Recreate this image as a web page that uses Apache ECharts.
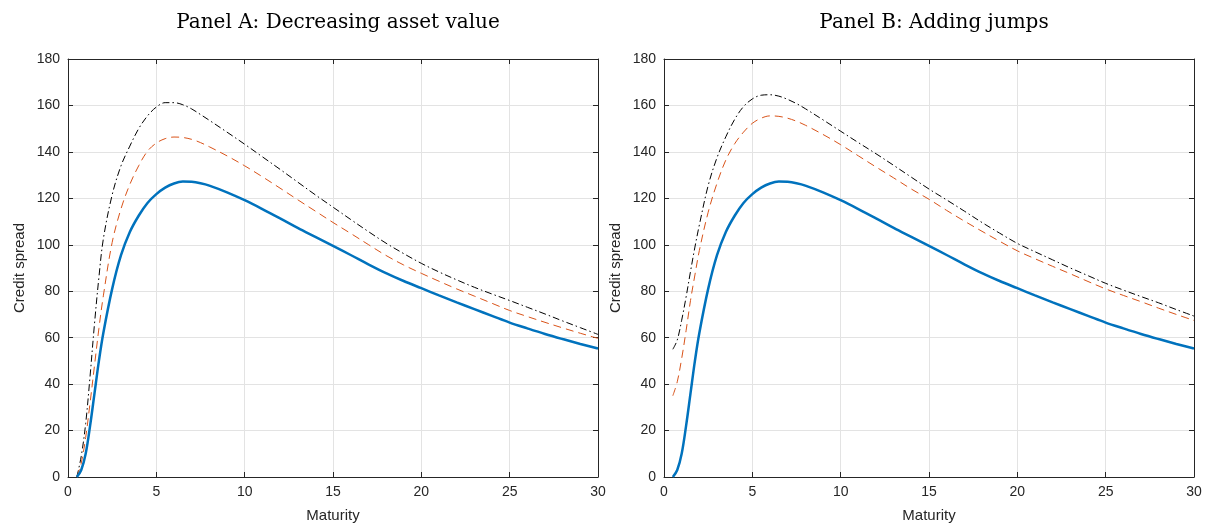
<!DOCTYPE html>
<html>
<head>
<meta charset="utf-8">
<script src="https://cdn.jsdelivr.net/npm/echarts@6/dist/echarts.min.js"></script>
<style>
    html, body { margin: 0; padding: 0; background: #fff; }
    #chart { width: 1212px; height: 531px; }
</style>
</head>
<body>
<div id="chart"></div>
<script>
// maturity grid shared by every curve
const maturity = [0.5, 0.75, 1, 1.25, 1.5, 1.75, 2, 2.5, 3, 3.5, 4, 4.5, 5, 5.5, 6, 6.5, 7, 7.5, 8,
    9, 10, 11, 12, 13, 14, 15, 16, 17, 18, 19, 20, 21, 22, 23, 24, 25, 26, 27, 28, 29, 30];

// base case (solid blue), identical in both panels
const baseSpread = [0, 3, 10, 22, 36, 50, 62, 81, 95.5, 105.5, 112.5, 118, 121.8, 124.6, 126.4, 127.2, 127.1, 126.5, 125.5,
    122.6, 119.2, 115.4, 111.4, 107.3, 103.4, 99.5, 95.6, 91.6, 87.8, 84.4, 81.3, 78.2, 75.2, 72.3, 69.4, 66.5, 64, 61.6, 59.4, 57.3, 55.3];

// Panel A: decreasing asset value
const aDashed = [0, 6, 17, 32, 48, 64, 78, 101, 115.5, 126, 134, 140.3, 143.8, 145.7, 146.4, 146.2, 145.4, 144, 142.2,
    138.3, 134, 129.3, 124.4, 119.4, 114.5, 109.6, 104.9, 100.1, 95.4, 91.3, 87.7, 84.3, 81, 77.9, 74.8, 71.7, 69.1, 66.6, 64.2, 61.9, 59.7];
const aDashDot = [0, 9, 23, 43.5, 66, 86, 102.5, 121.5, 134, 142.5, 150, 155.5, 159.3, 161.2, 161.2, 160.3, 158.5, 156.1, 153.6,
    148.5, 143.3, 137.9, 132.5, 127, 121.5, 116.2, 110.9, 105.7, 100.7, 96.2, 92, 88.3, 84.9, 81.7, 78.8, 76, 73.1, 70.2, 67.2, 64.3, 61.4];

// Panel B: adding jumps
const bDashed = [35, 41, 51, 63, 76, 87, 97.5, 114, 126.5, 136.5, 143.5, 148.5, 152.3, 154.5, 155.5, 155.3, 154.5, 153.2, 151.5,
    147.5, 143.1, 138.3, 133.5, 128.8, 124, 119.6, 114.8, 110.2, 105.8, 101.5, 97.4, 94, 90.7, 87.5, 84.2, 81, 78.2, 75.5, 72.7, 70, 67.4];
const bDashDot = [55, 59, 67.5, 77.5, 88.5, 99, 108.5, 125.5, 137.5, 146.5, 154, 159.5, 162.8, 164.4, 164.6, 164, 162.6, 160.8, 158.6,
    153.8, 148.9, 144, 139.2, 134.2, 129.1, 124, 119.3, 114.5, 109.6, 105, 100.6, 97, 93.5, 90, 86.7, 83.4, 80.5, 77.7, 75, 72.1, 69.3];

const panelTitles = ["Panel A: Decreasing asset value", "Panel B: Adding jumps"];
const xTicks = { min: 0, max: 30, interval: 5 };
const yTicks = { min: 0, max: 180, interval: 20 };

const AXIS = "#262626";
const GRID = "#e3e3e3";
const SANS = "Liberation Sans, Arial, sans-serif";

const pairs = (ys) => maturity.map((x, i) => [x, ys[i]]);

const grids = [
    { left: 68, top: 59, width: 530, height: 418 },
    { left: 664, top: 59, width: 530, height: 418 },
];

const xAxes = [];
const yAxes = [];
grids.forEach((g, gi) => {
    // bottom axis with labels
    xAxes.push({
        type: "value", gridIndex: gi, ...xTicks, position: "bottom",
        name: "Maturity", nameLocation: "middle", nameGap: 31,
        nameTextStyle: { fontFamily: SANS, fontSize: 15, color: AXIS },
        axisLine: { lineStyle: { color: AXIS } },
        axisTick: { inside: true, length: 5, lineStyle: { color: AXIS } },
        axisLabel: { fontFamily: SANS, fontSize: 14, color: AXIS, margin: 8 },
        splitLine: { show: true, lineStyle: { color: GRID } },
    });
    // top box edge
    xAxes.push({
        type: "value", gridIndex: gi, ...xTicks, position: "top",
        axisLine: { show: true, onZero: false, lineStyle: { color: AXIS } },
        axisTick: { show: true, inside: true, length: 5, lineStyle: { color: AXIS } },
        axisLabel: { show: false }, splitLine: { show: false },
    });
    yAxes.push({
        type: "value", gridIndex: gi, ...yTicks, position: "left",
        name: "Credit spread", nameLocation: "middle", nameGap: 41,
        nameTextStyle: { fontFamily: SANS, fontSize: 15, color: AXIS },
        axisLine: { show: true, lineStyle: { color: AXIS } },
        axisTick: { show: true, inside: true, length: 5, lineStyle: { color: AXIS } },
        axisLabel: { fontFamily: SANS, fontSize: 14, color: AXIS, margin: 8 },
        splitLine: { show: true, lineStyle: { color: GRID } },
    });
    yAxes.push({
        type: "value", gridIndex: gi, ...yTicks, position: "right",
        axisLine: { show: true, onZero: false, lineStyle: { color: AXIS } },
        axisTick: { show: true, inside: true, length: 5, lineStyle: { color: AXIS } },
        axisLabel: { show: false }, splitLine: { show: false },
    });
});

function curves(gi, dashed, dashDot) {
    const common = {
        type: "line", xAxisIndex: gi * 2, yAxisIndex: gi * 2,
        showSymbol: false, smooth: 0.35, silent: true,
    };
    return [
        { ...common, data: pairs(dashDot), z: 3, lineStyle: { color: "#000000", width: 1, type: [7, 3, 1.5, 3] } },
        { ...common, data: pairs(dashed), z: 4, lineStyle: { color: "#D95319", width: 1, type: [8, 5] } },
        { ...common, data: pairs(baseSpread), z: 5, lineStyle: { color: "#0072BD", width: 2.5 } },
    ];
}

const chart = echarts.init(document.getElementById("chart"), null, { renderer: "canvas" });
chart.setOption({
    animation: false,
    backgroundColor: "#fff",
    title: panelTitles.map((t, i) => ({
        text: t,
        left: grids[i].left + grids[i].width / 2,
        top: 8,
        textAlign: "center",
        textStyle: { fontFamily: "DejaVu Serif, serif", fontSize: 20, fontWeight: "normal", color: "#000" },
    })),
    grid: grids,
    xAxis: xAxes,
    yAxis: yAxes,
    series: [...curves(0, aDashed, aDashDot), ...curves(1, bDashed, bDashDot)],
});
</script>
</body>
</html>
